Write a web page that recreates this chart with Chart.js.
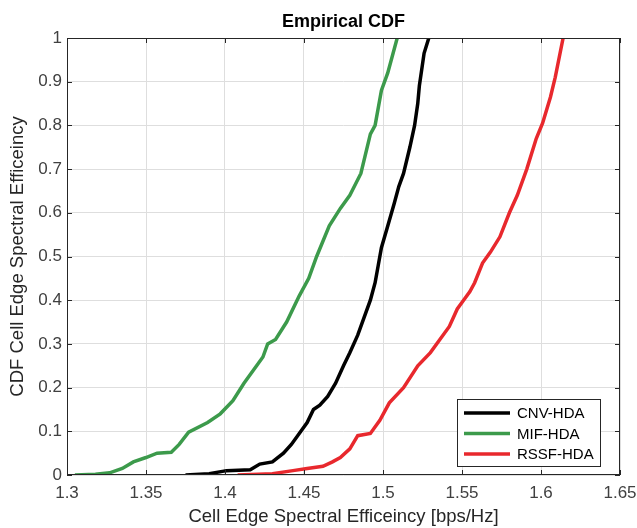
<!DOCTYPE html>
<html lang="en">
<head>
    <meta charset="UTF-8">
    <title>Empirical CDF</title>
    <script src="https://cdn.jsdelivr.net/npm/chart.js"></script>
    <style>
        html, body { margin: 0; padding: 0; background: #fff; }
        #wrap { width: 637px; height: 528px; }
    </style>
</head>
<body>
    <div id="wrap"><canvas id="cdf"></canvas></div>

    <script>
        // series names and colours
        const seriesNames = ['CNV-HDA', 'MIF-HDA', 'RSSF-HDA'];
        const seriesColors = ['#000000', '#3c9a4b', '#e8282d'];

        // values (x = spectral efficiency, y = CDF)
        const cnvX = [1.375, 1.390, 1.401, 1.416, 1.422, 1.430, 1.437, 1.442, 1.447, 1.452, 1.456, 1.460, 1.465, 1.470, 1.475, 1.479, 1.484, 1.488, 1.492, 1.495, 1.497, 1.499, 1.503, 1.507, 1.510, 1.513, 1.517, 1.520, 1.522, 1.523, 1.526, 1.529];
        const cnvY = [0, 0.003, 0.01, 0.012, 0.025, 0.03, 0.05, 0.07, 0.095, 0.12, 0.15, 0.16, 0.18, 0.21, 0.25, 0.28, 0.32, 0.36, 0.40, 0.44, 0.48, 0.52, 0.57, 0.62, 0.66, 0.69, 0.75, 0.80, 0.85, 0.89, 0.965, 1];

        const mifX = [1.305, 1.318, 1.327, 1.335, 1.342, 1.350, 1.357, 1.366, 1.371, 1.377, 1.389, 1.397, 1.405, 1.412, 1.420, 1.424, 1.427, 1.432, 1.439, 1.447, 1.453, 1.458, 1.466, 1.473, 1.479, 1.486, 1.492, 1.495, 1.499, 1.503, 1.509];
        const mifY = [0, 0.002, 0.005, 0.015, 0.03, 0.04, 0.05, 0.052, 0.07, 0.098, 0.12, 0.14, 0.17, 0.21, 0.25, 0.27, 0.30, 0.31, 0.35, 0.41, 0.45, 0.50, 0.57, 0.61, 0.64, 0.69, 0.78, 0.80, 0.88, 0.92, 1];

        const rssfX = [1.408, 1.430, 1.443, 1.452, 1.462, 1.468, 1.473, 1.479, 1.484, 1.492, 1.498, 1.504, 1.513, 1.522, 1.530, 1.536, 1.542, 1.547, 1.551, 1.555, 1.558, 1.563, 1.568, 1.574, 1.580, 1.585, 1.591, 1.597, 1.601, 1.606, 1.609, 1.614];
        const rssfY = [0, 0.003, 0.01, 0.015, 0.02, 0.03, 0.04, 0.06, 0.09, 0.095, 0.125, 0.165, 0.20, 0.25, 0.28, 0.31, 0.34, 0.38, 0.40, 0.42, 0.44, 0.485, 0.51, 0.545, 0.60, 0.64, 0.70, 0.77, 0.805, 0.865, 0.91, 1];

        // tick labels
        const xTickLabels = ['1.3', '1.35', '1.4', '1.45', '1.5', '1.55', '1.6', '1.65'];
        const yTickLabels = ['0', '0.1', '0.2', '0.3', '0.4', '0.5', '0.6', '0.7', '0.8', '0.9', '1'];

        const seriesX = [cnvX, mifX, rssfX];
        const seriesY = [cnvY, mifY, rssfY];

        const fontFam = '"Liberation Sans", Arial, Helvetica, sans-serif';
        const axisCol = '#262626';

        // box, inward ticks and legend like matlab
        const matlabBox = {
            id: 'matlabBox',
            afterDatasetsDraw(chart) {
                const ctx = chart.ctx;
                const ca = chart.chartArea;
                const xs = chart.scales.x, ys = chart.scales.y;
                ctx.save();
                ctx.strokeStyle = axisCol;
                ctx.lineWidth = 1;
                ctx.strokeRect(ca.left + 0.5, ca.top + 0.5, ca.right - ca.left - 1, ca.bottom - ca.top - 1);
                const tl = 5;
                ctx.beginPath();
                xs.ticks.forEach(t => {
                    const px = Math.round(xs.getPixelForValue(t.value)) + 0.5;
                    ctx.moveTo(px, ca.bottom); ctx.lineTo(px, ca.bottom - tl);
                    ctx.moveTo(px, ca.top); ctx.lineTo(px, ca.top + tl);
                });
                ys.ticks.forEach(t => {
                    const py = Math.round(ys.getPixelForValue(t.value)) + 0.5;
                    ctx.moveTo(ca.left, py); ctx.lineTo(ca.left + tl, py);
                    ctx.moveTo(ca.right, py); ctx.lineTo(ca.right - tl, py);
                });
                ctx.stroke();

                // legend
                const w = 143, h = 67;
                const bx = ca.right - 20 - w, by = ca.bottom - 9 - h;
                ctx.fillStyle = '#fff';
                ctx.fillRect(bx, by, w, h);
                ctx.strokeRect(bx + 0.5, by + 0.5, w, h);
                ctx.font = '15px ' + fontFam;
                ctx.textBaseline = 'middle';
                chart.data.datasets.forEach((ds, i) => {
                    const ry = by + 14 + i * 20.5;
                    ctx.strokeStyle = ds.borderColor;
                    ctx.lineWidth = 3.5;
                    ctx.beginPath();
                    ctx.moveTo(bx + 7, ry); ctx.lineTo(bx + 53, ry);
                    ctx.stroke();
                    ctx.fillStyle = '#000';
                    ctx.fillText(ds.label, bx + 60, ry + 1);
                });
                ctx.restore();
            }
        };

        new Chart(document.getElementById('cdf'), {
            type: 'line',
            data: {
                datasets: seriesNames.map((name, i) => ({
                    label: name,
                    data: seriesX[i].map((x, j) => ({ x: x, y: seriesY[i][j] })),
                    borderColor: seriesColors[i],
                    borderWidth: 3.5,
                    pointRadius: 0,
                    tension: 0,
                    fill: false
                }))
            },
            options: {
                responsive: true,
                maintainAspectRatio: false,
                animation: false,
                layout: { padding: { left: 0, right: 17, top: 0, bottom: 0 } },
                plugins: {
                    legend: { display: false },
                    tooltip: { enabled: false },
                    title: {
                        display: true,
                        text: 'Empirical CDF',
                        fullSize: false,
                        color: '#000',
                        font: { family: fontFam, size: 18, weight: 'bold' },
                        padding: { top: 11, bottom: 5.4 }
                    }
                },
                scales: {
                    x: {
                        type: 'linear',
                        min: 1.3,
                        max: 1.65,
                        afterFit: s => { s.height = 53; s.paddingLeft = 0; s.paddingRight = 0; },
                        ticks: {
                            stepSize: 0.05,
                            color: '#404040',
                            font: { family: fontFam, size: 17 },
                            padding: 8,
                            maxRotation: 0,
                            callback: (v, i) => xTickLabels[i]
                        },
                        grid: { color: '#dedede', drawTicks: false },
                        border: { display: false },
                        title: {
                            display: true,
                            text: 'Cell Edge Spectral Efficeincy [bps/Hz]',
                            color: axisCol,
                            font: { family: fontFam, size: 18.5 },
                            padding: { top: 0, bottom: 0 }
                        }
                    },
                    y: {
                        type: 'linear',
                        min: 0,
                        max: 1,
                        afterFit: s => { s.width = 67; s.paddingTop = 0; s.paddingBottom = 0; },
                        ticks: {
                            stepSize: 0.1,
                            color: '#404040',
                            font: { family: fontFam, size: 17 },
                            padding: 5,
                            callback: (v, i) => yTickLabels[i]
                        },
                        grid: { color: '#dedede', drawTicks: false },
                        border: { display: false },
                        title: {
                            display: true,
                            text: 'CDF Cell Edge Spectral Efficeincy',
                            color: axisCol,
                            font: { family: fontFam, size: 18.5 },
                            padding: { top: 7, bottom: 0 }
                        }
                    }
                }
            },
            plugins: [matlabBox]
        });
    </script>
</body>
</html>
